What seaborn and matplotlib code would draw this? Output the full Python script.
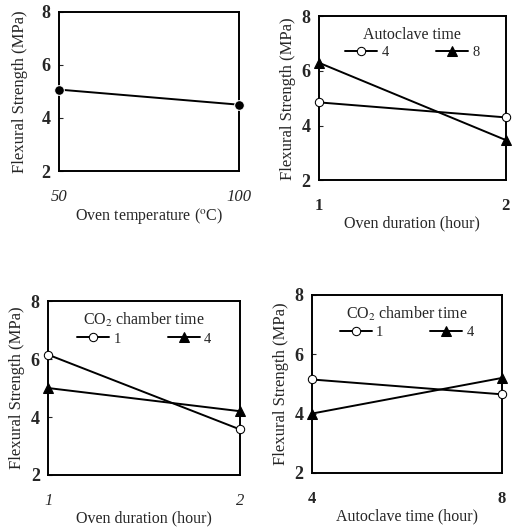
import matplotlib
matplotlib.use("Agg")
from matplotlib import pyplot as plt
import pandas as pd
import seaborn as sns

# dati
oven_temp = [50, 100]
fs_temp = [5.07, 4.5]

oven_dur = [1, 2]
fs_autoclave_4 = [4.85, 4.3]
fs_autoclave_8 = [6.3, 3.47]

fs_co2_1_dur = [6.15, 3.57]
fs_co2_4_dur = [5.0, 4.2]

autoclave_time = [4, 8]
fs_co2_1_auto = [5.15, 4.65]
fs_co2_4_auto = [4.0, 5.2]

y_ticks = [2, 4, 6, 8]

sns.set_style("ticks")
plt.rcParams['font.family'] = ['Liberation Serif', 'DejaVu Serif']
plt.rcParams['mathtext.fontset'] = 'stix'

fig = plt.figure(figsize=(5.12, 5.27), dpi=100)

ax1 = fig.add_axes([0.115, 0.6755, 0.352, 0.302])
ax2 = fig.add_axes([0.623, 0.658, 0.365, 0.311])
ax3 = fig.add_axes([0.094, 0.0987, 0.375, 0.330])
ax4 = fig.add_axes([0.609, 0.1025, 0.371, 0.338])

open_kw = dict(marker='o', color='black', markerfacecolor='white', markeredgecolor='black',
               markersize=6, linewidth=1.4, clip_on=False, zorder=5)
tri_kw = dict(marker='^', color='black', markerfacecolor='black', markeredgecolor='black',
              markersize=6.5, linewidth=1.4, clip_on=False, zorder=5)

# pannello 1
sns.lineplot(x=oven_temp, y=fs_temp, ax=ax1, marker='o', color='black', markersize=7,
             linewidth=1.4, clip_on=False, zorder=5)

# pannello 2
sns.lineplot(x=oven_dur, y=fs_autoclave_4, ax=ax2, label='4', **open_kw)
sns.lineplot(x=oven_dur, y=fs_autoclave_8, ax=ax2, label='8', **tri_kw)

# pannello 3
sns.lineplot(x=oven_dur, y=fs_co2_1_dur, ax=ax3, label='1', **open_kw)
sns.lineplot(x=oven_dur, y=fs_co2_4_dur, ax=ax3, label='4', **tri_kw)

# pannello 4
sns.lineplot(x=autoclave_time, y=fs_co2_1_auto, ax=ax4, label='1', **open_kw)
sns.lineplot(x=autoclave_time, y=fs_co2_4_auto, ax=ax4, label='4', **tri_kw)

setup = [
    (ax1, oven_temp, 'Oven temperature ($^{\\mathrm{o}}$C)', None, 'italic', 10),
    (ax2, oven_dur, 'Oven duration (hour)', 'Autoclave time', 'normal', 4),
    (ax3, oven_dur, 'Oven duration (hour)', 'CO$_2$ chamber time', 'italic', 4),
    (ax4, autoclave_time, 'Autoclave time (hour)', 'CO$_2$ chamber time', 'normal', 4),
]

for ax, xs, xlab, leg_title, xstyle, ypad in setup:
    ax.set_xlim(xs[0], xs[-1])
    ax.set_ylim(2, 8)
    ax.set_xticks(xs)
    ax.set_xticklabels([str(v) for v in xs], fontsize=12, fontstyle=xstyle,
                       fontweight='bold' if xstyle == 'normal' else 'normal')
    ax.set_yticks(y_ticks)
    ax.set_yticklabels([str(v) for v in y_ticks], fontsize=13, fontweight='bold')
    ax.tick_params(axis='x', length=0, pad=13)
    ax.tick_params(axis='y', direction='in', length=3, width=0.8, pad=6)
    ax.set_xlabel(xlab, fontsize=11.5, labelpad=1)
    ax.set_ylabel('Flexural Strength (MPa)', fontsize=12, labelpad=ypad)
    for sp in ax.spines.values():
        sp.set_linewidth(1.4)
        sp.set_color('black')
    if leg_title:
        ax.legend(ncol=2, loc='upper center', frameon=False, title=leg_title,
                  title_fontsize=11.5, fontsize=10.5, handlelength=2.2, columnspacing=3.2,
                  handletextpad=0.3, borderaxespad=0.3, labelspacing=0.2)

plt.savefig('out.png', dpi=100)
